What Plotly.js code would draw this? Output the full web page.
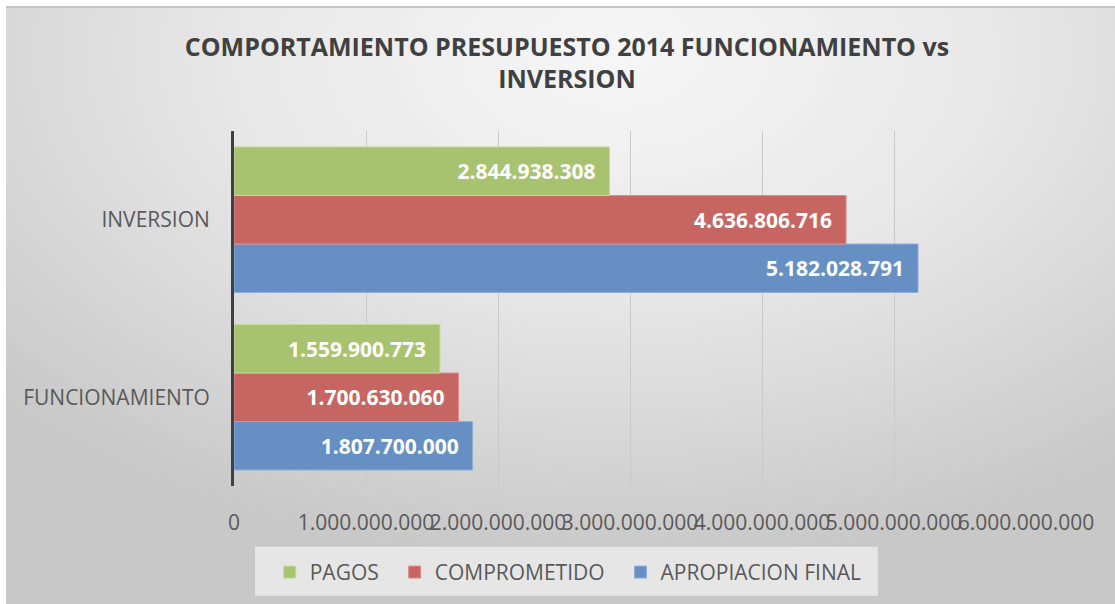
<!DOCTYPE html>
<html>
<head>
<meta charset="utf-8">
<script src="https://cdn.plot.ly/plotly-3.0.1.min.js"></script>
<style>
html, body { margin: 0; padding: 0; background: #ffffff; }
#frame {
  position: absolute; left: 6px; top: 6px; width: 1109px; height: 598px;
  border-top: 2px solid #c4c4c4; box-sizing: border-box;
  background: radial-gradient(ellipse 75% 85% at 55% 8%, #f6f6f6 0%, #e8e8e8 45%, #d4d4d4 80%, #c8c8c8 100%);
}
#chart { position: absolute; left: 0; top: 0; width: 1115px; height: 604px; }
</style>
</head>
<body>
<div id="frame"></div>
<div id="chart"></div>
<script>
// Data
const categories = ["FUNCIONAMIENTO", "INVERSION"];
const apropiacionFinal = [1807700000, 5182028791];
const comprometido = [1700630060, 4636806716];
const pagos = [1559900773, 2844938308];
const seriesNames = ["APROPIACION FINAL", "COMPROMETIDO", "PAGOS"];
const tickValues = [0, 1000000000, 2000000000, 3000000000, 4000000000, 5000000000, 6000000000];
const tickLabels = ["0", "1.000.000.000", "2.000.000.000", "3.000.000.000", "4.000.000.000", "5.000.000.000", "6.000.000.000"];

const colors = ["#6690c4", "#c66562", "#a8c36f"];
const lineColors = ["#8fb0d9", "#dc8d8a", "#c4d99a"];
const seriesValues = [apropiacionFinal, comprometido, pagos];
const legendPad = ["", "\u00a0\u00a0", "\u00a0\u00a0"];

const labelFont = "Open Sans, Noto Sans, sans-serif";

const traces = seriesValues.map((vals, i) => ({
  type: "bar",
  orientation: "h",
  name: seriesNames[i] + legendPad[i],
  y: categories,
  x: vals,
  marker: { color: colors[i], line: { color: lineColors[i], width: 1 } },
  texttemplate: "<b>%{x:,.0f}</b>\u00a0\u00a0",
  textposition: "inside",
  insidetextanchor: "end",
  textfont: { family: labelFont, size: 21, color: "#ffffff" },
  hoverinfo: "x+name"
}));

const layout = {
  width: 1115, height: 604,
  margin: { l: 234, r: 89, t: 131, b: 117 },
  paper_bgcolor: "rgba(0,0,0,0)",
  plot_bgcolor: "rgba(0,0,0,0)",
  separators: ",.",
  barmode: "group",
  bargap: 0.18,
  bargroupgap: 0,
  title: {
    text: "<b>COMPORTAMIENTO PRESUPUESTO 2014 FUNCIONAMIENTO vs<br>INVERSION</b>",
    x: 0.5085, xanchor: "center",
    y: 0.9075, yanchor: "middle",
    font: { family: labelFont, size: 25, color: "#404040" }
  },
  xaxis: {
    range: [0, 6000000000],
    tickvals: tickValues,
    ticktext: tickLabels,
    tickangle: 0,
    showgrid: true,
    gridcolor: "#c9c9c9",
    gridwidth: 1,
    zeroline: false,
    showline: false,
    ticks: "outside",
    ticklen: 18,
    tickcolor: "rgba(0,0,0,0)",
    tickfont: { family: labelFont, size: 21, color: "#595959" },
    fixedrange: true
  },
  yaxis: {
    type: "category",
    range: [-0.5, 1.5],
    showgrid: false,
    zeroline: false,
    showline: true,
    linecolor: "#404040",
    linewidth: 3,
    ticks: "outside",
    ticklen: 17,
    tickcolor: "rgba(0,0,0,0)",
    tickfont: { family: labelFont, size: 21, color: "#595959" },
    fixedrange: true
  },
  shapes: [{
    type: "rect", xref: "paper", yref: "paper", layer: "below",
    x0: 0.0265, x1: 0.813, y0: -0.171, y1: -0.309,
    fillcolor: "#e6e6e6", line: { width: 0 }
  }],
  showlegend: true,
  legend: {
    orientation: "h",
    traceorder: "reversed",
    x: 0.422, xanchor: "center",
    y: -0.24, yanchor: "middle",
    bgcolor: "rgba(0,0,0,0)",
    borderwidth: 0,
    font: { family: labelFont, size: 21, color: "#595959" },
    itemwidth: 30
  }
};

Plotly.newPlot("chart", traces, layout, { displayModeBar: false, staticPlot: true });
</script>
</body>
</html>
